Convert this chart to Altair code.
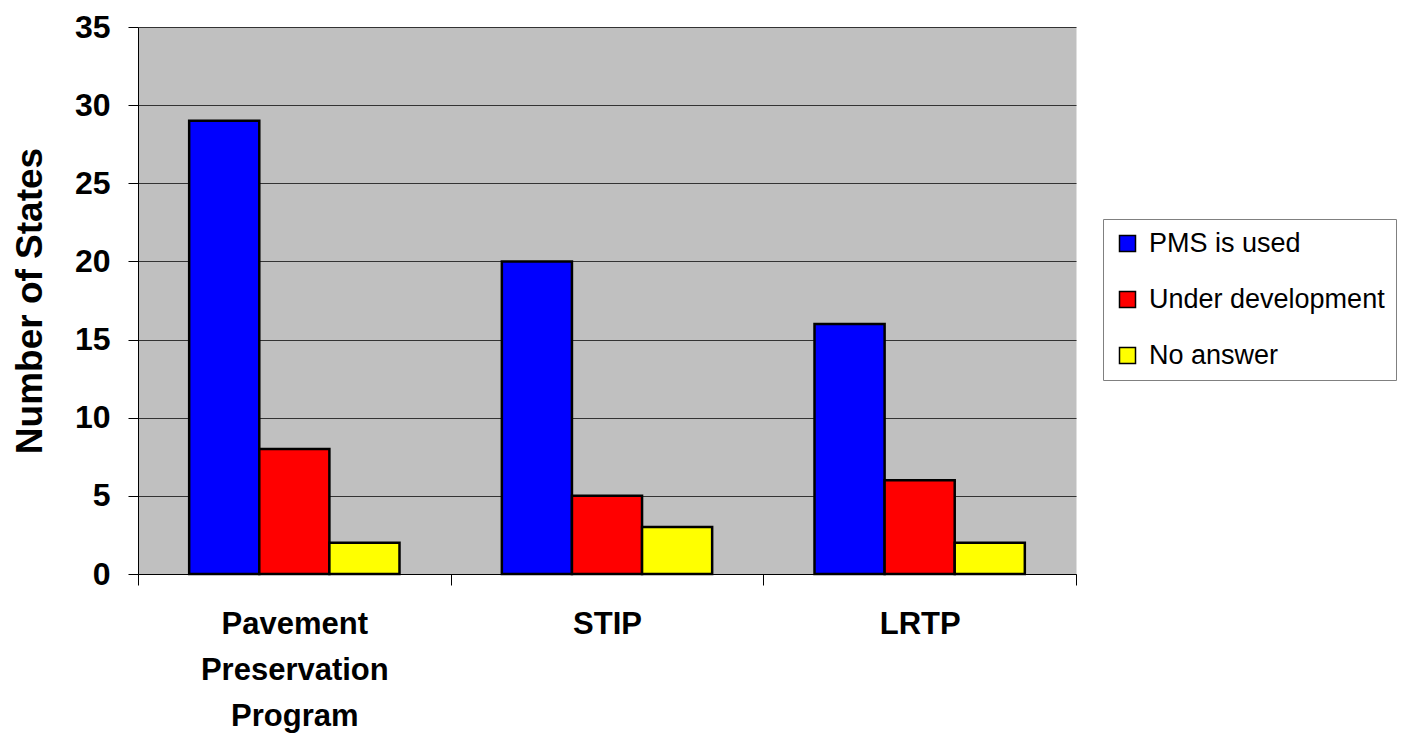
import altair as alt
import pandas as pd

categories = ["Pavement Preservation Program", "STIP", "LRTP"]
series = ["PMS is used", "Under development", "No answer"]
colors = ["#0000FF", "#FF0000", "#FFFF00"]
pms_used = [29, 20, 16]
under_dev = [8, 5, 6]
no_answer = [2, 3, 2]
y_ticks = [0, 5, 10, 15, 20, 25, 30, 35]

rows = []
for i, c in enumerate(categories):
    for s, vals in zip(series, [pms_used, under_dev, no_answer]):
        rows.append({"category": c, "series": s, "value": vals[i]})
df = pd.DataFrame(rows)

FONT = "Liberation Sans"

chart = alt.Chart(df).mark_bar(stroke="black", strokeWidth=2.5).encode(
    x=alt.X(
        "category:N",
        sort=categories,
        scale=alt.Scale(paddingInner=0, paddingOuter=0),
        axis=alt.Axis(
            title=None,
            labelAngle=0,
            tickBand="extent",
            labelExpr="split(datum.label, ' ')",
            labelFont=FONT,
            labelFontSize=31,
            labelFontWeight="bold",
            labelColor="black",
            labelLineHeight=46,
            labelBaseline="top",
            labelPadding=24,
            labelLimit=400,
            tickSize=11,
            tickColor="black",
            domainColor="black",
            grid=False,
        ),
    ),
    xOffset=alt.XOffset(
        "series:N",
        sort=series,
        scale=alt.Scale(paddingInner=0, paddingOuter=0.73),
    ),
    y=alt.Y(
        "value:Q",
        scale=alt.Scale(domain=[0, 35], nice=False),
        axis=alt.Axis(
            values=y_ticks,
            title="Number of States",
            titleFont=FONT,
            titleFontSize=37,
            titleFontWeight="bold",
            titleColor="black",
            titleX=-108,
            titleBaseline="middle",
            labelFont=FONT,
            labelFontSize=32,
            labelFontWeight="bold",
            labelColor="black",
            labelPadding=18,
            tickSize=10,
            tickColor="black",
            domainColor="black",
            grid=True,
            gridColor="#333333",
            gridWidth=1,
        ),
    ),
    color=alt.Color(
        "series:N",
        sort=series,
        scale=alt.Scale(domain=series, range=colors),
        title=None,
        legend=alt.Legend(
            orient="none",
            legendX=965,
            legendY=192,
            symbolType="square",
            symbolSize=256,
            symbolStrokeColor="black",
            symbolStrokeWidth=1.5,
            labelFont=FONT,
            labelFontSize=27,
            labelColor="black",
            labelOffset=8,
            labelLimit=400,
            rowPadding=28,
            padding=11,
            strokeColor="#808080",
            fillColor="white",
        ),
    ),
).properties(
    width=938,
    height=547,
    autosize=alt.AutoSizeParams(type="none"),
    padding={"left": 130, "top": 19, "right": 330, "bottom": 161},
).configure_view(
    fill="#C0C0C0",
    stroke="transparent",
)

chart.save("out.html", embed_options={"renderer": "svg", "actions": False})
